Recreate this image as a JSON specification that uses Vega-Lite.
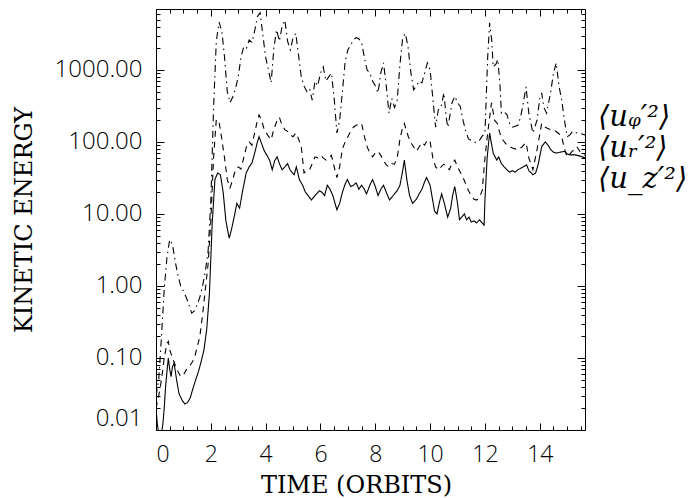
{
  "$schema": "https://vega.github.io/schema/vega-lite/v6.json",
  "autosize": {"type": "none"},
  "padding": {"left": 156, "top": 9, "right": 104, "bottom": 68},
  "width": 429,
  "height": 421,
  "background": "white",
  "config": {
    "view": {"stroke": "black", "strokeWidth": 1},
    "axis": {"domain": false, "grid": false, "tickColor": "black", "tickWidth": 1, "labelColor": "black", "titleColor": "black"}
  },
  "data": {"values": [
    {"t":0.0,"s":"p","v":0.03},{"t":0.1,"s":"p","v":0.05},{"t":0.2,"s":"p","v":0.2},{"t":0.3,"s":"p","v":0.9},{"t":0.4,"s":"p","v":2.5},{"t":0.5,"s":"p","v":4.4},{"t":0.6,"s":"p","v":3.8},{"t":0.7,"s":"p","v":2.2},{"t":0.8,"s":"p","v":1.4},{"t":0.9,"s":"p","v":1.0},{"t":1.0,"s":"p","v":0.85},{"t":1.1,"s":"p","v":0.7},{"t":1.2,"s":"p","v":0.55},{"t":1.3,"s":"p","v":0.42},{"t":1.4,"s":"p","v":0.45},{"t":1.5,"s":"p","v":0.55},{"t":1.6,"s":"p","v":0.7},{"t":1.7,"s":"p","v":1.0},{"t":1.8,"s":"p","v":1.6},{"t":1.9,"s":"p","v":3.0},{"t":2.0,"s":"p","v":15},{"t":2.1,"s":"p","v":300},{"t":2.2,"s":"p","v":2500},{"t":2.3,"s":"p","v":4600},{"t":2.4,"s":"p","v":3500},{"t":2.5,"s":"p","v":1500},{"t":2.6,"s":"p","v":500},{"t":2.7,"s":"p","v":350},{"t":2.8,"s":"p","v":420},{"t":2.9,"s":"p","v":550},{"t":3.0,"s":"p","v":800},{"t":3.1,"s":"p","v":1500},{"t":3.2,"s":"p","v":2100},{"t":3.3,"s":"p","v":2000},{"t":3.4,"s":"p","v":2600},{"t":3.5,"s":"p","v":2400},{"t":3.6,"s":"p","v":3500},{"t":3.7,"s":"p","v":5500},{"t":3.8,"s":"p","v":6200},{"t":3.9,"s":"p","v":3000},{"t":4.0,"s":"p","v":1500},{"t":4.1,"s":"p","v":1000},{"t":4.2,"s":"p","v":660},{"t":4.3,"s":"p","v":2000},{"t":4.4,"s":"p","v":3600},{"t":4.5,"s":"p","v":2500},{"t":4.6,"s":"p","v":4000},{"t":4.7,"s":"p","v":4900},{"t":4.8,"s":"p","v":2500},{"t":4.9,"s":"p","v":1900},{"t":5.0,"s":"p","v":2800},{"t":5.1,"s":"p","v":3200},{"t":5.2,"s":"p","v":1600},{"t":5.3,"s":"p","v":800},{"t":5.4,"s":"p","v":600},{"t":5.5,"s":"p","v":500},{"t":5.6,"s":"p","v":550},{"t":5.7,"s":"p","v":380},{"t":5.8,"s":"p","v":700},{"t":5.9,"s":"p","v":600},{"t":6.0,"s":"p","v":900},{"t":6.1,"s":"p","v":1100},{"t":6.2,"s":"p","v":700},{"t":6.3,"s":"p","v":800},{"t":6.4,"s":"p","v":900},{"t":6.5,"s":"p","v":400},{"t":6.6,"s":"p","v":133},{"t":6.7,"s":"p","v":200},{"t":6.8,"s":"p","v":500},{"t":6.9,"s":"p","v":1300},{"t":7.0,"s":"p","v":1900},{"t":7.1,"s":"p","v":2200},{"t":7.2,"s":"p","v":2600},{"t":7.3,"s":"p","v":2800},{"t":7.4,"s":"p","v":2700},{"t":7.5,"s":"p","v":2400},{"t":7.6,"s":"p","v":1500},{"t":7.7,"s":"p","v":1000},{"t":7.8,"s":"p","v":900},{"t":7.9,"s":"p","v":700},{"t":8.0,"s":"p","v":600},{"t":8.1,"s":"p","v":480},{"t":8.2,"s":"p","v":900},{"t":8.3,"s":"p","v":1250},{"t":8.4,"s":"p","v":600},{"t":8.5,"s":"p","v":250},{"t":8.6,"s":"p","v":400},{"t":8.7,"s":"p","v":300},{"t":8.8,"s":"p","v":380},{"t":8.9,"s":"p","v":1200},{"t":9.0,"s":"p","v":2800},{"t":9.1,"s":"p","v":3200},{"t":9.2,"s":"p","v":2000},{"t":9.3,"s":"p","v":900},{"t":9.4,"s":"p","v":530},{"t":9.5,"s":"p","v":600},{"t":9.6,"s":"p","v":700},{"t":9.7,"s":"p","v":660},{"t":9.8,"s":"p","v":900},{"t":9.9,"s":"p","v":1250},{"t":10.0,"s":"p","v":1000},{"t":10.1,"s":"p","v":400},{"t":10.2,"s":"p","v":160},{"t":10.3,"s":"p","v":280},{"t":10.4,"s":"p","v":300},{"t":10.5,"s":"p","v":480},{"t":10.6,"s":"p","v":200},{"t":10.65,"s":"p","v":160},{"t":10.8,"s":"p","v":350},{"t":10.9,"s":"p","v":430},{"t":11.0,"s":"p","v":350},{"t":11.1,"s":"p","v":310},{"t":11.2,"s":"p","v":200},{"t":11.3,"s":"p","v":140},{"t":11.4,"s":"p","v":110},{"t":11.5,"s":"p","v":105},{"t":11.6,"s":"p","v":100},{"t":11.7,"s":"p","v":98},{"t":11.8,"s":"p","v":105},{"t":11.9,"s":"p","v":120},{"t":12.0,"s":"p","v":133},{"t":12.1,"s":"p","v":1500},{"t":12.17,"s":"p","v":4500},{"t":12.25,"s":"p","v":2500},{"t":12.3,"s":"p","v":1100},{"t":12.4,"s":"p","v":1200},{"t":12.47,"s":"p","v":1400},{"t":12.55,"s":"p","v":600},{"t":12.6,"s":"p","v":250},{"t":12.7,"s":"p","v":260},{"t":12.8,"s":"p","v":240},{"t":12.9,"s":"p","v":180},{"t":13.0,"s":"p","v":160},{"t":13.1,"s":"p","v":165},{"t":13.2,"s":"p","v":170},{"t":13.3,"s":"p","v":220},{"t":13.4,"s":"p","v":350},{"t":13.5,"s":"p","v":580},{"t":13.6,"s":"p","v":250},{"t":13.75,"s":"p","v":133},{"t":13.9,"s":"p","v":200},{"t":14.0,"s":"p","v":400},{"t":14.07,"s":"p","v":480},{"t":14.15,"s":"p","v":300},{"t":14.25,"s":"p","v":250},{"t":14.4,"s":"p","v":500},{"t":14.5,"s":"p","v":900},{"t":14.6,"s":"p","v":1250},{"t":14.7,"s":"p","v":600},{"t":14.8,"s":"p","v":380},{"t":14.9,"s":"p","v":200},{"t":15.0,"s":"p","v":118},{"t":15.1,"s":"p","v":125},{"t":15.2,"s":"p","v":140},{"t":15.35,"s":"p","v":133},{"t":15.5,"s":"p","v":130},{"t":15.65,"s":"p","v":125},
    {"t":0.0,"s":"r","v":0.02},{"t":0.1,"s":"r","v":0.03},{"t":0.2,"s":"r","v":0.05},{"t":0.3,"s":"r","v":0.1},{"t":0.4,"s":"r","v":0.16},{"t":0.45,"s":"r","v":0.17},{"t":0.5,"s":"r","v":0.13},{"t":0.6,"s":"r","v":0.1},{"t":0.7,"s":"r","v":0.08},{"t":0.8,"s":"r","v":0.065},{"t":0.9,"s":"r","v":0.055},{"t":1.0,"s":"r","v":0.058},{"t":1.1,"s":"r","v":0.068},{"t":1.2,"s":"r","v":0.075},{"t":1.3,"s":"r","v":0.085},{"t":1.4,"s":"r","v":0.1},{"t":1.5,"s":"r","v":0.14},{"t":1.6,"s":"r","v":0.2},{"t":1.7,"s":"r","v":0.4},{"t":1.8,"s":"r","v":0.9},{"t":1.9,"s":"r","v":2.0},{"t":2.0,"s":"r","v":8},{"t":2.1,"s":"r","v":60},{"t":2.2,"s":"r","v":205},{"t":2.3,"s":"r","v":190},{"t":2.4,"s":"r","v":110},{"t":2.5,"s":"r","v":60},{"t":2.6,"s":"r","v":30},{"t":2.7,"s":"r","v":23},{"t":2.8,"s":"r","v":30},{"t":2.9,"s":"r","v":41},{"t":3.0,"s":"r","v":45},{"t":3.1,"s":"r","v":42},{"t":3.2,"s":"r","v":60},{"t":3.3,"s":"r","v":86},{"t":3.4,"s":"r","v":100},{"t":3.5,"s":"r","v":90},{"t":3.6,"s":"r","v":133},{"t":3.7,"s":"r","v":200},{"t":3.76,"s":"r","v":237},{"t":3.85,"s":"r","v":200},{"t":3.95,"s":"r","v":148},{"t":4.1,"s":"r","v":120},{"t":4.2,"s":"r","v":107},{"t":4.3,"s":"r","v":150},{"t":4.4,"s":"r","v":190},{"t":4.5,"s":"r","v":220},{"t":4.6,"s":"r","v":170},{"t":4.7,"s":"r","v":148},{"t":4.8,"s":"r","v":140},{"t":4.9,"s":"r","v":125},{"t":5.0,"s":"r","v":118},{"t":5.1,"s":"r","v":133},{"t":5.2,"s":"r","v":110},{"t":5.3,"s":"r","v":86},{"t":5.4,"s":"r","v":37},{"t":5.5,"s":"r","v":40},{"t":5.6,"s":"r","v":41},{"t":5.7,"s":"r","v":50},{"t":5.8,"s":"r","v":62},{"t":5.9,"s":"r","v":60},{"t":6.0,"s":"r","v":65},{"t":6.1,"s":"r","v":60},{"t":6.2,"s":"r","v":56},{"t":6.3,"s":"r","v":60},{"t":6.4,"s":"r","v":65},{"t":6.5,"s":"r","v":45},{"t":6.6,"s":"r","v":32},{"t":6.7,"s":"r","v":45},{"t":6.8,"s":"r","v":80},{"t":6.9,"s":"r","v":100},{"t":7.0,"s":"r","v":118},{"t":7.1,"s":"r","v":140},{"t":7.2,"s":"r","v":160},{"t":7.3,"s":"r","v":170},{"t":7.4,"s":"r","v":175},{"t":7.5,"s":"r","v":180},{"t":7.6,"s":"r","v":120},{"t":7.7,"s":"r","v":86},{"t":7.8,"s":"r","v":70},{"t":7.9,"s":"r","v":62},{"t":8.0,"s":"r","v":70},{"t":8.1,"s":"r","v":74},{"t":8.2,"s":"r","v":65},{"t":8.3,"s":"r","v":55},{"t":8.4,"s":"r","v":48},{"t":8.5,"s":"r","v":45},{"t":8.6,"s":"r","v":50},{"t":8.7,"s":"r","v":49},{"t":8.8,"s":"r","v":60},{"t":8.9,"s":"r","v":110},{"t":9.0,"s":"r","v":160},{"t":9.06,"s":"r","v":180},{"t":9.2,"s":"r","v":120},{"t":9.3,"s":"r","v":98},{"t":9.4,"s":"r","v":85},{"t":9.5,"s":"r","v":74},{"t":9.6,"s":"r","v":85},{"t":9.7,"s":"r","v":98},{"t":9.8,"s":"r","v":90},{"t":9.9,"s":"r","v":107},{"t":10.0,"s":"r","v":100},{"t":10.1,"s":"r","v":60},{"t":10.2,"s":"r","v":45},{"t":10.3,"s":"r","v":41},{"t":10.4,"s":"r","v":45},{"t":10.5,"s":"r","v":49},{"t":10.6,"s":"r","v":45},{"t":10.7,"s":"r","v":41},{"t":10.8,"s":"r","v":50},{"t":10.9,"s":"r","v":56},{"t":11.0,"s":"r","v":45},{"t":11.1,"s":"r","v":38},{"t":11.2,"s":"r","v":32},{"t":11.3,"s":"r","v":26},{"t":11.4,"s":"r","v":21},{"t":11.5,"s":"r","v":18},{"t":11.6,"s":"r","v":16},{"t":11.7,"s":"r","v":15.6},{"t":11.8,"s":"r","v":17},{"t":11.9,"s":"r","v":21},{"t":12.0,"s":"r","v":60},{"t":12.1,"s":"r","v":133},{"t":12.24,"s":"r","v":350},{"t":12.35,"s":"r","v":200},{"t":12.45,"s":"r","v":180},{"t":12.55,"s":"r","v":130},{"t":12.65,"s":"r","v":107},{"t":12.8,"s":"r","v":90},{"t":12.9,"s":"r","v":86},{"t":13.0,"s":"r","v":82},{"t":13.2,"s":"r","v":78},{"t":13.35,"s":"r","v":85},{"t":13.5,"s":"r","v":98},{"t":13.6,"s":"r","v":60},{"t":13.75,"s":"r","v":41},{"t":13.9,"s":"r","v":78},{"t":14.07,"s":"r","v":180},{"t":14.2,"s":"r","v":160},{"t":14.35,"s":"r","v":150},{"t":14.5,"s":"r","v":148},{"t":14.7,"s":"r","v":130},{"t":14.8,"s":"r","v":118},{"t":14.9,"s":"r","v":80},{"t":15.0,"s":"r","v":62},{"t":15.2,"s":"r","v":75},{"t":15.35,"s":"r","v":86},{"t":15.5,"s":"r","v":70},{"t":15.65,"s":"r","v":65},
    {"t":0.0,"s":"z","v":0.02},{"t":0.05,"s":"z","v":0.012},{"t":0.1,"s":"z","v":0.009},{"t":0.15,"s":"z","v":0.007},{"t":0.2,"s":"z","v":0.009},{"t":0.25,"s":"z","v":0.012},{"t":0.3,"s":"z","v":0.02},{"t":0.35,"s":"z","v":0.04},{"t":0.4,"s":"z","v":0.065},{"t":0.45,"s":"z","v":0.1},{"t":0.5,"s":"z","v":0.07},{"t":0.55,"s":"z","v":0.055},{"t":0.6,"s":"z","v":0.075},{"t":0.66,"s":"z","v":0.085},{"t":0.75,"s":"z","v":0.05},{"t":0.84,"s":"z","v":0.032},{"t":0.95,"s":"z","v":0.026},{"t":1.05,"s":"z","v":0.023},{"t":1.15,"s":"z","v":0.024},{"t":1.25,"s":"z","v":0.028},{"t":1.35,"s":"z","v":0.038},{"t":1.45,"s":"z","v":0.05},{"t":1.55,"s":"z","v":0.065},{"t":1.65,"s":"z","v":0.09},{"t":1.75,"s":"z","v":0.13},{"t":1.85,"s":"z","v":0.25},{"t":1.95,"s":"z","v":0.8},{"t":2.05,"s":"z","v":7.5},{"t":2.15,"s":"z","v":30},{"t":2.25,"s":"z","v":37},{"t":2.35,"s":"z","v":35},{"t":2.45,"s":"z","v":20},{"t":2.55,"s":"z","v":8},{"t":2.67,"s":"z","v":4.6},{"t":2.75,"s":"z","v":6},{"t":2.85,"s":"z","v":9},{"t":2.95,"s":"z","v":14},{"t":3.05,"s":"z","v":12},{"t":3.15,"s":"z","v":20},{"t":3.29,"s":"z","v":37},{"t":3.4,"s":"z","v":45},{"t":3.5,"s":"z","v":51},{"t":3.6,"s":"z","v":70},{"t":3.7,"s":"z","v":100},{"t":3.76,"s":"z","v":118},{"t":3.85,"s":"z","v":95},{"t":3.95,"s":"z","v":75},{"t":4.05,"s":"z","v":65},{"t":4.15,"s":"z","v":55},{"t":4.24,"s":"z","v":41},{"t":4.33,"s":"z","v":55},{"t":4.42,"s":"z","v":62},{"t":4.5,"s":"z","v":50},{"t":4.6,"s":"z","v":41},{"t":4.7,"s":"z","v":45},{"t":4.8,"s":"z","v":50},{"t":4.9,"s":"z","v":40},{"t":5.04,"s":"z","v":35},{"t":5.12,"s":"z","v":45},{"t":5.23,"s":"z","v":30},{"t":5.35,"s":"z","v":25},{"t":5.45,"s":"z","v":20},{"t":5.55,"s":"z","v":18},{"t":5.67,"s":"z","v":15.6},{"t":5.8,"s":"z","v":18},{"t":5.96,"s":"z","v":21},{"t":6.05,"s":"z","v":20},{"t":6.15,"s":"z","v":18},{"t":6.25,"s":"z","v":25},{"t":6.35,"s":"z","v":22},{"t":6.45,"s":"z","v":18},{"t":6.6,"s":"z","v":11.4},{"t":6.7,"s":"z","v":14},{"t":6.8,"s":"z","v":20},{"t":6.9,"s":"z","v":26},{"t":6.98,"s":"z","v":30},{"t":7.1,"s":"z","v":24},{"t":7.2,"s":"z","v":25},{"t":7.3,"s":"z","v":27},{"t":7.4,"s":"z","v":22},{"t":7.5,"s":"z","v":25},{"t":7.6,"s":"z","v":22},{"t":7.68,"s":"z","v":19},{"t":7.8,"s":"z","v":25},{"t":7.9,"s":"z","v":30},{"t":8.0,"s":"z","v":24},{"t":8.1,"s":"z","v":18},{"t":8.2,"s":"z","v":22},{"t":8.3,"s":"z","v":25},{"t":8.4,"s":"z","v":20},{"t":8.52,"s":"z","v":15.6},{"t":8.65,"s":"z","v":18},{"t":8.8,"s":"z","v":21},{"t":8.9,"s":"z","v":25},{"t":9.0,"s":"z","v":40},{"t":9.06,"s":"z","v":56},{"t":9.15,"s":"z","v":30},{"t":9.25,"s":"z","v":18},{"t":9.36,"s":"z","v":14},{"t":9.5,"s":"z","v":16},{"t":9.6,"s":"z","v":19},{"t":9.7,"s":"z","v":22},{"t":9.8,"s":"z","v":28},{"t":9.87,"s":"z","v":32},{"t":10.0,"s":"z","v":25},{"t":10.16,"s":"z","v":11},{"t":10.25,"s":"z","v":10},{"t":10.33,"s":"z","v":14},{"t":10.42,"s":"z","v":19},{"t":10.52,"s":"z","v":14},{"t":10.64,"s":"z","v":9},{"t":10.75,"s":"z","v":12},{"t":10.82,"s":"z","v":18},{"t":10.9,"s":"z","v":24},{"t":11.0,"s":"z","v":14},{"t":11.07,"s":"z","v":8.3},{"t":11.15,"s":"z","v":9},{"t":11.25,"s":"z","v":10},{"t":11.33,"s":"z","v":8.3},{"t":11.42,"s":"z","v":9},{"t":11.5,"s":"z","v":7.7},{"t":11.6,"s":"z","v":8},{"t":11.7,"s":"z","v":7.5},{"t":11.8,"s":"z","v":8.3},{"t":11.9,"s":"z","v":7.5},{"t":11.97,"s":"z","v":7},{"t":12.0,"s":"z","v":15.6},{"t":12.08,"s":"z","v":60},{"t":12.17,"s":"z","v":133},{"t":12.3,"s":"z","v":70},{"t":12.43,"s":"z","v":56},{"t":12.5,"s":"z","v":62},{"t":12.6,"s":"z","v":50},{"t":12.7,"s":"z","v":45},{"t":12.8,"s":"z","v":41},{"t":12.9,"s":"z","v":38},{"t":13.0,"s":"z","v":40},{"t":13.1,"s":"z","v":38},{"t":13.2,"s":"z","v":41},{"t":13.3,"s":"z","v":43},{"t":13.4,"s":"z","v":45},{"t":13.52,"s":"z","v":48},{"t":13.6,"s":"z","v":40},{"t":13.75,"s":"z","v":35},{"t":13.85,"s":"z","v":37},{"t":13.95,"s":"z","v":50},{"t":14.07,"s":"z","v":86},{"t":14.2,"s":"z","v":100},{"t":14.3,"s":"z","v":90},{"t":14.4,"s":"z","v":78},{"t":14.5,"s":"z","v":72},{"t":14.6,"s":"z","v":70},{"t":14.75,"s":"z","v":72},{"t":14.9,"s":"z","v":74},{"t":15.0,"s":"z","v":68},{"t":15.1,"s":"z","v":66},{"t":15.3,"s":"z","v":66},{"t":15.5,"s":"z","v":63},{"t":15.65,"s":"z","v":60}
  ]},
  "resolve": {"axis": {"x": "independent", "y": "independent"}},
  "layer": [
    {
      "mark": {"type": "line", "color": "black", "strokeWidth": 1.1, "clip": true},
      "encoding": {
        "x": {"field": "t", "type": "quantitative",
          "scale": {"domain": [0, 15.65], "nice": false, "zero": false},
          "axis": {"orient": "bottom", "title": "TIME (ORBITS)",
            "values": [0,0.5,1,1.5,2,2.5,3,3.5,4,4.5,5,5.5,6,6.5,7,7.5,8,8.5,9,9.5,10,10.5,11,11.5,12,12.5,13,13.5,14,14.5,15,15.5],
            "tickSize": {"condition": {"test": "datum.value % 2 == 0", "value": -7}, "value": -4},
            "labelExpr": "datum.value % 2 == 0 ? format(datum.value, 'd') : ''",
            "labelOverlap": false, "labelFlush": true,
            "labelFont": "Open Sans", "labelFontWeight": 300, "labelFontSize": 23, "labelPadding": 20,
            "titleFont": "DejaVu Serif", "titleFontSize": 24, "titleFontWeight": "normal", "titlePadding": 4, "titleX": 200}},
        "y": {"field": "v", "type": "quantitative",
          "scale": {"type": "log", "domain": [0.01, 7000], "nice": false},
          "axis": {"orient": "left", "title": "KINETIC ENERGY",
            "values": [0.01,0.02,0.03,0.04,0.05,0.06,0.07,0.08,0.09,0.1,0.2,0.3,0.4,0.5,0.6,0.7,0.8,0.9,1,2,3,4,5,6,7,8,9,10,20,30,40,50,60,70,80,90,100,200,300,400,500,600,700,800,900,1000,2000,3000,4000,5000,6000,7000],
            "tickSize": {"condition": {"test": "abs(log(datum.value)/LN10 - round(log(datum.value)/LN10)) < 0.001", "value": -8}, "value": -4},
            "labelExpr": "abs(log(datum.value)/LN10 - round(log(datum.value)/LN10)) < 0.001 ? format(datum.value, '.2f') : ''",
            "labelOverlap": false, "labelFlush": true,
            "labelFont": "Open Sans", "labelFontWeight": 300, "labelFontSize": 24, "labelPadding": 22,
            "titleFont": "DejaVu Serif", "titleFontSize": 24, "titleFontWeight": "normal", "titlePadding": 18}},
        "strokeDash": {"field": "s", "type": "nominal",
          "scale": {"domain": ["p", "r", "z"], "range": [[7, 4, 1.5, 4], [6, 5], [1, 0]]},
          "legend": {"orient": "none", "legendX": 413, "legendY": 93, "title": null,
            "labelExpr": "datum.label == 'p' ? '⟨uᵩ′²⟩' : (datum.label == 'r' ? '⟨uᵣ′²⟩' : '⟨u_z′²⟩')",
            "symbolOpacity": 0, "symbolSize": 1, "symbolStrokeWidth": 0, "labelOffset": 0,
            "labelFont": "DejaVu Serif", "labelFontStyle": "italic", "labelFontSize": 29, "labelColor": "black", "rowPadding": 1}}
      }
    },
    {
      "mark": {"type": "point", "opacity": 0, "size": 0},
      "encoding": {
        "x": {"field": "t", "type": "quantitative",
          "axis": {"orient": "top", "title": null, "labels": false,
            "values": [0,0.5,1,1.5,2,2.5,3,3.5,4,4.5,5,5.5,6,6.5,7,7.5,8,8.5,9,9.5,10,10.5,11,11.5,12,12.5,13,13.5,14,14.5,15,15.5],
            "tickSize": {"condition": {"test": "datum.value % 2 == 0", "value": -7}, "value": -4}}},
        "y": {"field": "v", "type": "quantitative",
          "axis": {"orient": "right", "title": null, "labels": false,
            "values": [0.01,0.02,0.03,0.04,0.05,0.06,0.07,0.08,0.09,0.1,0.2,0.3,0.4,0.5,0.6,0.7,0.8,0.9,1,2,3,4,5,6,7,8,9,10,20,30,40,50,60,70,80,90,100,200,300,400,500,600,700,800,900,1000,2000,3000,4000,5000,6000,7000],
            "tickSize": {"condition": {"test": "abs(log(datum.value)/LN10 - round(log(datum.value)/LN10)) < 0.001", "value": -8}, "value": -4}}}
      }
    }
  ]
}
